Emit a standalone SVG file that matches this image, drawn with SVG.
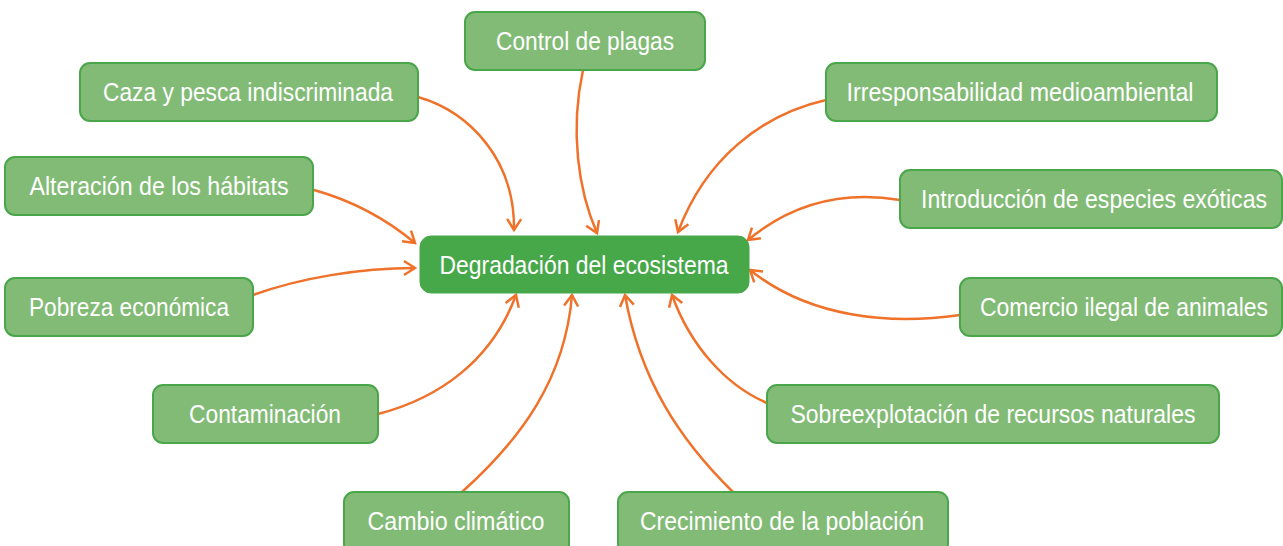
<svg xmlns="http://www.w3.org/2000/svg" width="1283" height="546" viewBox="0 0 1283 546">
<style>
.n rect{fill:#82bb76;stroke:#4aa64a;stroke-width:2}
.c rect{fill:#47a84a;stroke:#47a84a;stroke-width:1}
text{font-family:"Liberation Sans",Arial,sans-serif;font-size:26px;fill:#ffffff;text-anchor:middle}
.e path{fill:none;stroke:#f0722a;stroke-width:2.5}
</style>
<defs>
<marker id="ah" markerUnits="userSpaceOnUse" markerWidth="20" markerHeight="20" refX="13" refY="9" orient="auto">
<path d="M2,2 L13,9 L2,16" fill="none" stroke="#f0722a" stroke-width="2.5"/>
</marker>
</defs>
<g id="connectors" class="e">
<path d="M418,97 C470,112 515,160 514,230" marker-end="url(#ah)"/>
<path d="M583,70 C570,130 578,190 597,233" marker-end="url(#ah)"/>
<path d="M314,190 C350,200 385,218 415,243" marker-end="url(#ah)"/>
<path d="M253,295 C300,278 360,268 415,268" marker-end="url(#ah)"/>
<path d="M826,100 C760,115 705,160 678,232" marker-end="url(#ah)"/>
<path d="M900,200 C840,190 790,205 748,240" marker-end="url(#ah)"/>
<path d="M960,315 C890,325 810,318 750,270" marker-end="url(#ah)"/>
<path d="M767,403 C725,385 690,345 672,295" marker-end="url(#ah)"/>
<path d="M733,492 C680,440 640,380 625,295" marker-end="url(#ah)"/>
<path d="M462,492 C520,440 565,380 572,295" marker-end="url(#ah)"/>
<path d="M378,414 C440,398 492,360 516,295" marker-end="url(#ah)"/>
</g>
<g id="center" class="c"><rect x="420" y="236" width="329" height="57" rx="11"/><text x="584" y="274" textLength="289" lengthAdjust="spacingAndGlyphs">Degradación del ecosistema</text></g>
<g id="control" class="n"><rect x="465" y="12" width="240" height="58" rx="10"/><text x="585" y="50" textLength="178" lengthAdjust="spacingAndGlyphs">Control de plagas</text></g>
<g id="caza" class="n"><rect x="80" y="63" width="338" height="58" rx="10"/><text x="248" y="101" textLength="290" lengthAdjust="spacingAndGlyphs">Caza y pesca indiscriminada</text></g>
<g id="irresponsabilidad" class="n"><rect x="826" y="63" width="391" height="58" rx="10"/><text x="1020" y="101" textLength="347" lengthAdjust="spacingAndGlyphs">Irresponsabilidad medioambiental</text></g>
<g id="alteracion" class="n"><rect x="5" y="157" width="308" height="58" rx="10"/><text x="159" y="195" textLength="259" lengthAdjust="spacingAndGlyphs">Alteración de los hábitats</text></g>
<g id="introduccion" class="n"><rect x="900" y="170" width="382" height="58" rx="10"/><text x="1094" y="208" textLength="346" lengthAdjust="spacingAndGlyphs">Introducción de especies exóticas</text></g>
<g id="pobreza" class="n"><rect x="5" y="278" width="248" height="58" rx="10"/><text x="129" y="316" textLength="200" lengthAdjust="spacingAndGlyphs">Pobreza económica</text></g>
<g id="comercio" class="n"><rect x="960" y="278" width="322" height="58" rx="10"/><text x="1124" y="316" textLength="288" lengthAdjust="spacingAndGlyphs">Comercio ilegal de animales</text></g>
<g id="contaminacion" class="n"><rect x="153" y="385" width="225" height="58" rx="10"/><text x="265" y="423" textLength="152" lengthAdjust="spacingAndGlyphs">Contaminación</text></g>
<g id="sobreexplotacion" class="n"><rect x="767" y="385" width="452" height="58" rx="10"/><text x="993" y="423" textLength="405" lengthAdjust="spacingAndGlyphs">Sobreexplotación de recursos naturales</text></g>
<g id="cambio" class="n"><rect x="344" y="492" width="225" height="62" rx="10"/><text x="456" y="530" textLength="177" lengthAdjust="spacingAndGlyphs">Cambio climático</text></g>
<g id="crecimiento" class="n"><rect x="618" y="492" width="330" height="62" rx="10"/><text x="782" y="530" textLength="284" lengthAdjust="spacingAndGlyphs">Crecimiento de la población</text></g>
</svg>
